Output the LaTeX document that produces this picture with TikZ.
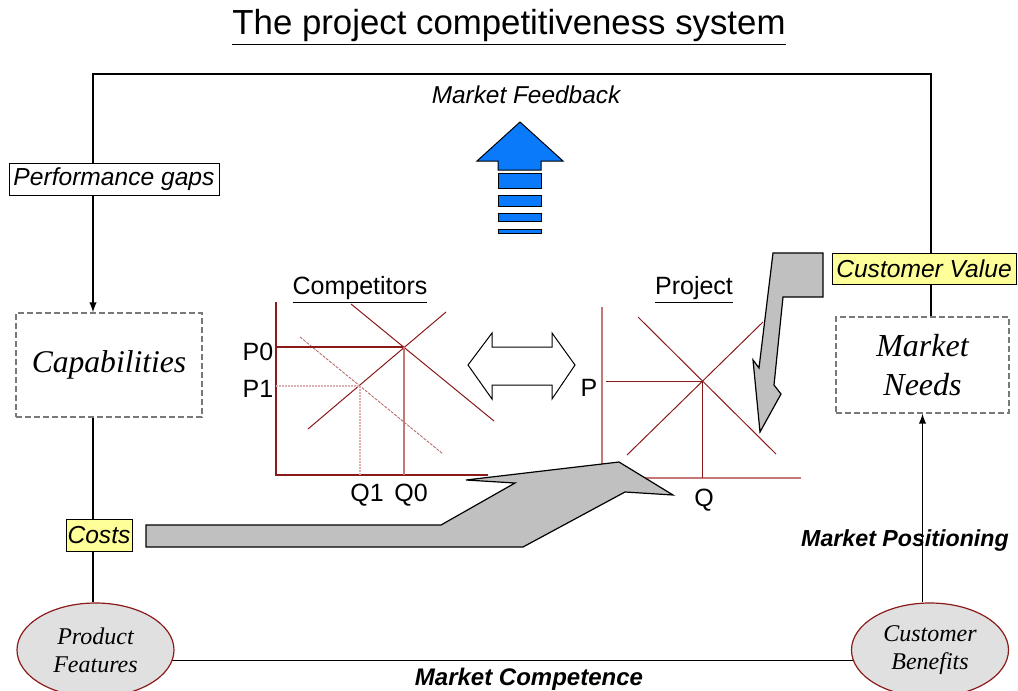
\documentclass[tikz,border=0pt]{standalone}
\usepackage{fontspec}
\setmainfont{Liberation Sans}
\newfontfamily\tnr{Liberation Serif}
\usepackage{xcolor}
\usetikzlibrary{shapes,arrows,backgrounds}

\definecolor{axisred}{RGB}{139,26,26}
\definecolor{softred}{RGB}{196,120,120}
\definecolor{dotpink}{RGB}{225,175,175}
\definecolor{arrowgray}{RGB}{192,192,192}
\definecolor{feedblue}{RGB}{10,122,250}
\definecolor{noteyellow}{RGB}{255,255,153}
\definecolor{ovalgray}{RGB}{224,224,224}
\definecolor{boxgray}{RGB}{120,120,120}

\begin{document}
\begin{tikzpicture}[x=0.5pt,y=-0.5pt,line width=0.7pt,
  dashbox/.style={draw=boxgray,dash pattern=on 3pt off 1.5pt,line width=0.8pt,align=center,inner sep=0pt},
  oval/.style={ellipse,draw=axisred,fill=ovalgray,line width=0.6pt,minimum width=78.5pt,minimum height=47pt,inner sep=0pt,align=center,font=\tnr\itshape\fontsize{12}{14}\selectfont},
  tag/.style={draw,inner sep=0pt,line width=0.5pt,font=\itshape\fontsize{12.3}{14}\selectfont},
  chartaxis/.style={draw=axisred,line width=0.8pt},
  mline/.style={draw=axisred,line width=0.5pt},
  lbl/.style={font=\fontsize{12.5}{14}\selectfont},
  bigarrow/.style={draw,fill=arrowgray,line width=0.6pt}]
\useasboundingbox (0,0) rectangle (1018,691);

\node[font=\fontsize{17.4}{20}\selectfont,anchor=base] (title) at (509,34) {\underline{The project competitiveness system}};

% boxes and ovals
\node[dashbox,minimum width=93pt,minimum height=52pt,font=\tnr\itshape\fontsize{15.8}{19.5}\selectfont] (cap) at (109,365) {Capabilities};
\node[dashbox,minimum width=86.5pt,minimum height=48pt,font=\tnr\itshape\fontsize{16}{19.5}\selectfont] (needs) at (922.5,365) {Market\\Needs};
\node[oval] (prod) at (95.5,650) {Product\\Features};
\node[oval] (ben) at (930,650) {Customer\\Benefits};

\coordinate (tl) at (93,74);
\coordinate (tr) at (931,74);

% loop
\draw[-latex] (needs.north -| tr) -- (tr) -- (tl) -- (cap.north -| tl);
\draw (cap.south -| tl) -- (prod.north -| tl);
\draw[-latex] (ben.north -| needs.south) -- (needs.south);
\begin{scope}[on background layer]
\draw ([yshift=-5pt]prod.center) -- ([yshift=-5pt]ben.center);
\end{scope}

\node[tag,fill=white,minimum width=105pt,minimum height=16pt] (perf) at (114,179) {Performance gaps};
\node[tag,fill=noteyellow,minimum width=92pt,minimum height=15.5pt] (cval) at (924,268.5) {Customer Value};
\node[tag,fill=noteyellow,minimum width=33pt,minimum height=16pt] (costs) at (99,535) {Costs};

\node[font=\itshape\fontsize{12.2}{14}\selectfont] (fb) at (526,95) {Market Feedback};
\node[font=\bfseries\itshape\fontsize{12}{14}\selectfont] (comp) at (529,679) {Market Competence};
\node[font=\bfseries\itshape\fontsize{11.6}{14}\selectfont] (pos) at (905,540) {Market Positioning};

% feedback arrow
\draw[fill=feedblue,line width=0.5pt] (520,122) -- (563,161) -- (541,161) -- (541,170) -- (498,170) -- (498,161) -- (477,161) -- cycle;
\foreach \a/\b in {173/188,195/206,213/221,229/233}
  \draw[fill=feedblue,line width=0.5pt] (498,\a) rectangle (541,\b);

% competitors chart
\node[lbl] (ctitle) at (360,290) {\underline{Competitors}};
\draw[chartaxis] (276,302) -- (276,475) -- (488,475);
\draw[mline] (308,429) -- (446,312);
\draw[mline] (351,304) -- (494,421);
\draw[mline,draw=axisred!70,dash pattern=on 1.5pt off 0.6pt,line width=0.4pt] (300,337) -- (443,454);
\coordinate (E0) at (404,347);
\coordinate (E1) at (360,386);
\draw[chartaxis] (276,347) -- (E0);
\draw[softred,line width=1pt] (E0) -- (404,475);
\draw[dotpink,dash pattern=on 1pt off 0.5pt,line width=0.9pt] (276,386) -- (E1) -- (360,475);
\node[lbl] (p0) at (258,352) {P0};
\node[lbl] (p1) at (258,389) {P1};
\node[lbl] (q1) at (367,495) {Q1};
\node[lbl] (q0) at (411,495) {Q0};

% double arrow
\draw[fill=white,line width=0.5pt] (468,365) -- (492,333) -- (492,347) -- (552,347) -- (552,333) -- (575,365) -- (552,399) -- (552,385) -- (492,385) -- (492,399) -- cycle;

% project chart
\node[lbl] (ptitle) at (694,290) {\underline{Project}};
\draw[softred,line width=0.8pt] (602,307) -- (602,478) -- (801,478);
\draw[mline] (638,317) -- (776,454);
\draw[mline] (627,455) -- (763,322);
\coordinate (E) at (702,381);
\draw[mline] (606,381) -- (E) -- (702,478);
\node[lbl] (p) at (589,388) {P};
\node[lbl] (q) at (704,500) {Q};

% gray arrows
\draw[bigarrow] (146,525) -- (441,525) -- (515,483) -- (466,480) -- (619,462) -- (673,495) -- (625,492) -- (523,547) -- (146,547) -- cycle;
\draw[bigarrow] (773,253) -- (823,253) -- (823,297) -- (783,297) -- (774,385) -- (781,394) -- (760,432) -- (753,360) -- (759,368) -- cycle;
\end{tikzpicture}
\end{document}
